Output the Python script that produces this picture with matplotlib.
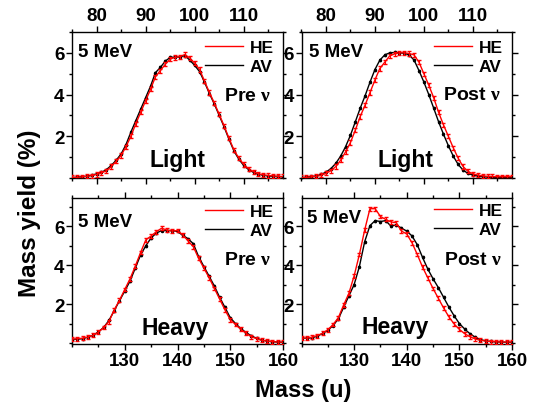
import numpy as np
import matplotlib
matplotlib.use('Agg')
import matplotlib.pyplot as plt
from matplotlib.ticker import MultipleLocator
from matplotlib.lines import Line2D

plt.rcParams['font.family'] = 'Liberation Sans'
plt.rcParams['font.weight'] = 'bold'
plt.rcParams['mathtext.fontset'] = 'custom'
plt.rcParams['mathtext.rm'] = 'Liberation Serif'

# mass numbers
light_mass = np.arange(75, 119)
heavy_mass = np.arange(120, 161)

# mass yields (%)
light_pre_he = [0.02, 0.03, 0.05, 0.08, 0.11, 0.17, 0.24, 0.35, 0.55, 0.8,
                1.08, 1.5, 2.0, 2.6, 3.15, 3.7, 4.25, 4.85, 5.15, 5.45,
                5.7, 5.78, 5.82, 5.92, 5.75, 5.5, 5.2, 4.65, 4.1, 3.6,
                3.05, 2.5, 1.9, 1.35, 0.95, 0.65, 0.44, 0.3, 0.2, 0.15,
                0.12, 0.1, 0.08, 0.07]
light_pre_av = [0.02, 0.04, 0.06, 0.09, 0.13, 0.2, 0.27, 0.4, 0.6, 0.85,
                1.15, 1.6, 2.2, 2.75, 3.3, 3.85, 4.4, 5.05, 5.3, 5.6,
                5.78, 5.8, 5.8, 5.87, 5.65, 5.4, 5.1, 4.6, 4.05, 3.55,
                3.0, 2.45, 1.85, 1.3, 0.9, 0.6, 0.4, 0.27, 0.18, 0.13,
                0.1, 0.08, 0.07, 0.06]
light_post_he = [0.02, 0.03, 0.05, 0.08, 0.13, 0.22, 0.35, 0.55, 0.85, 1.25,
                 1.7, 2.3, 2.95, 3.5, 4.1, 4.7, 5.25, 5.55, 5.85, 5.95,
                 6.0, 6.0, 5.97, 5.9, 5.55, 5.0, 4.45, 3.85, 3.15, 2.55,
                 2.0, 1.45, 0.95, 0.55, 0.32, 0.2, 0.14, 0.1, 0.08, 0.07,
                 0.06, 0.06, 0.06, 0.06]
light_post_av = [0.02, 0.04, 0.07, 0.1, 0.17, 0.28, 0.45, 0.7, 1.05, 1.5,
                 2.05, 2.7, 3.35, 3.95, 4.6, 5.2, 5.65, 5.9, 6.0, 6.02,
                 6.0, 5.98, 5.9, 5.65, 5.15, 4.6, 4.0, 3.35, 2.7, 2.1,
                 1.55, 1.05, 0.65, 0.38, 0.22, 0.14, 0.1, 0.07, 0.05, 0.04,
                 0.03, 0.03, 0.02, 0.02]
heavy_pre_he = [0.2, 0.22, 0.25, 0.3, 0.4, 0.55, 0.8, 1.1, 1.7, 2.2,
                2.75, 3.3, 3.95, 4.65, 5.3, 5.5, 5.72, 5.9, 5.8, 5.75,
                5.78, 5.55, 5.25, 4.95, 4.35, 3.85, 3.35, 2.8, 2.25, 1.7,
                1.2, 0.95, 0.7, 0.5, 0.33, 0.22, 0.14, 0.1, 0.07, 0.05,
                0.04]
heavy_pre_av = [0.18, 0.2, 0.22, 0.3, 0.4, 0.57, 0.8, 1.16, 1.66, 2.17,
                2.67, 3.18, 3.85, 4.52, 5.0, 5.4, 5.65, 5.78, 5.78, 5.78,
                5.73, 5.53, 5.36, 5.1, 4.44, 3.93, 3.43, 2.92, 2.34, 1.83,
                1.3, 1.0, 0.74, 0.54, 0.37, 0.24, 0.15, 0.1, 0.07, 0.05,
                0.04]
heavy_post_he = [0.25, 0.25, 0.3, 0.38, 0.5, 0.68, 0.95, 1.3, 1.95, 2.55,
                 3.45, 4.55, 5.8, 6.9, 6.9, 6.5, 6.35, 6.22, 6.18, 5.75,
                 5.6, 5.15, 4.55, 3.9, 3.35, 2.8, 2.3, 1.8, 1.35, 0.98,
                 0.7, 0.48, 0.32, 0.21, 0.14, 0.1, 0.07, 0.06, 0.05, 0.05,
                 0.05]
heavy_post_av = [0.24, 0.25, 0.27, 0.35, 0.49, 0.65, 0.9, 1.24, 1.83, 2.42,
                 3.0, 3.93, 5.2, 6.03, 6.29, 6.24, 6.29, 6.0, 6.07, 5.9,
                 5.75, 5.5, 5.05, 4.4, 3.8, 3.3, 2.85, 2.35, 1.85, 1.4,
                 1.0, 0.72, 0.48, 0.3, 0.18, 0.11, 0.08, 0.06, 0.05, 0.04,
                 0.04]
he_err = 0.1
av_err = 0.05

light_ticks = [80, 90, 100, 110]
heavy_ticks = [130, 140, 150, 160]

RED = '#ff0000'

fig = plt.figure(figsize=(5.43, 4.06), dpi=100)
W, H = 543, 406


def box(x0, x1, y0, y1):
    return [x0 / W, 1 - y1 / H, (x1 - x0) / W, (y1 - y0) / H]


panels = [
    dict(x=light_mass, he=light_pre_he, av=light_pre_av, frag='Light', nu='Pre',
         rect=box(72, 283, 33, 179), top=True, mev=(0.03, 0.836), frag_xy=(0.5, 0.084),
         nu_xy=(0.946, 0.536), leg=0.945),
    dict(x=light_mass, he=light_post_he, av=light_post_av, frag='Light', nu='Post',
         rect=box(301.5, 512, 33, 179), top=True, mev=(0.036, 0.833), frag_xy=(0.495, 0.084),
         nu_xy=(0.948, 0.54), leg=0.945),
    dict(x=heavy_mass, he=heavy_pre_he, av=heavy_pre_av, frag='Heavy', nu='Pre',
         rect=box(72, 283, 199, 345), top=False, mev=(0.03, 0.806), frag_xy=(0.488, 0.07),
         nu_xy=(0.946, 0.545), leg=0.96),
    dict(x=heavy_mass, he=heavy_post_he, av=heavy_post_av, frag='Heavy', nu='Post',
         rect=box(301.5, 512, 199, 345), top=False, mev=(0.025, 0.834), frag_xy=(0.443, 0.075),
         nu_xy=(0.953, 0.548), leg=0.965),
]

for p in panels:
    ax = fig.add_axes(p['rect'])
    ax.errorbar(p['x'], p['av'], yerr=av_err, color='black', lw=1.0, marker='o', ms=1.5,
                elinewidth=0.6, capsize=1, zorder=2)
    ax.errorbar(p['x'], p['he'], yerr=he_err, color=RED, lw=1.0, elinewidth=0.8,
                capsize=1.5, zorder=3)

    if p['top']:
        ax.set_xlim(75, 118)
        ax.set_ylim(0, 7.0)
        ax.set_xticks(light_ticks)
        ax.tick_params(axis='x', labeltop=True, labelbottom=False)
    else:
        ax.set_xlim(120, 160)
        ax.set_ylim(-0.05, 7.45)
        ax.set_xticks(heavy_ticks)
    ax.xaxis.set_minor_locator(MultipleLocator(5))
    ax.set_yticks([2, 4, 6])
    ax.yaxis.set_minor_locator(MultipleLocator(1))
    ax.tick_params(which='both', direction='out', top=True, right=True, width=1,
                   labelsize=13.5, pad=1.5)
    ax.tick_params(which='major', length=4)
    ax.tick_params(which='minor', length=2.5)
    for s in ax.spines.values():
        s.set_linewidth(1.0)

    ax.text(p['mev'][0], p['mev'][1], '5 MeV', transform=ax.transAxes, fontsize=13.5,
            fontweight='bold', ha='left', va='baseline')
    ax.text(p['frag_xy'][0], p['frag_xy'][1], p['frag'], transform=ax.transAxes,
            fontsize=16.5, fontweight='bold', ha='center', va='baseline')
    ax.text(p['nu_xy'][0], p['nu_xy'][1], p['nu'] + r' $\mathrm{\nu}$',
            transform=ax.transAxes, fontsize=14, fontweight='bold',
            ha='right', va='baseline')

    handles = [Line2D([], [], color=RED, lw=1.0), Line2D([], [], color='black', lw=1.0)]
    ax.legend(handles, ['HE', 'AV'], loc='upper right', bbox_to_anchor=(0.955, p['leg']),
              frameon=False, fontsize=12.5, handlelength=2.2, handletextpad=0.35,
              labelspacing=0.2, borderpad=0, borderaxespad=0)

fig.text(29.5 / W, 1 - 213 / H, 'Mass yield (%)', rotation=90, fontsize=17.5,
         fontweight='bold', ha='center', va='center')
fig.text(303 / W, 1 - 397 / H, 'Mass (u)', fontsize=17, fontweight='bold',
         ha='center', va='baseline')

fig.savefig('out.png', dpi=100)
